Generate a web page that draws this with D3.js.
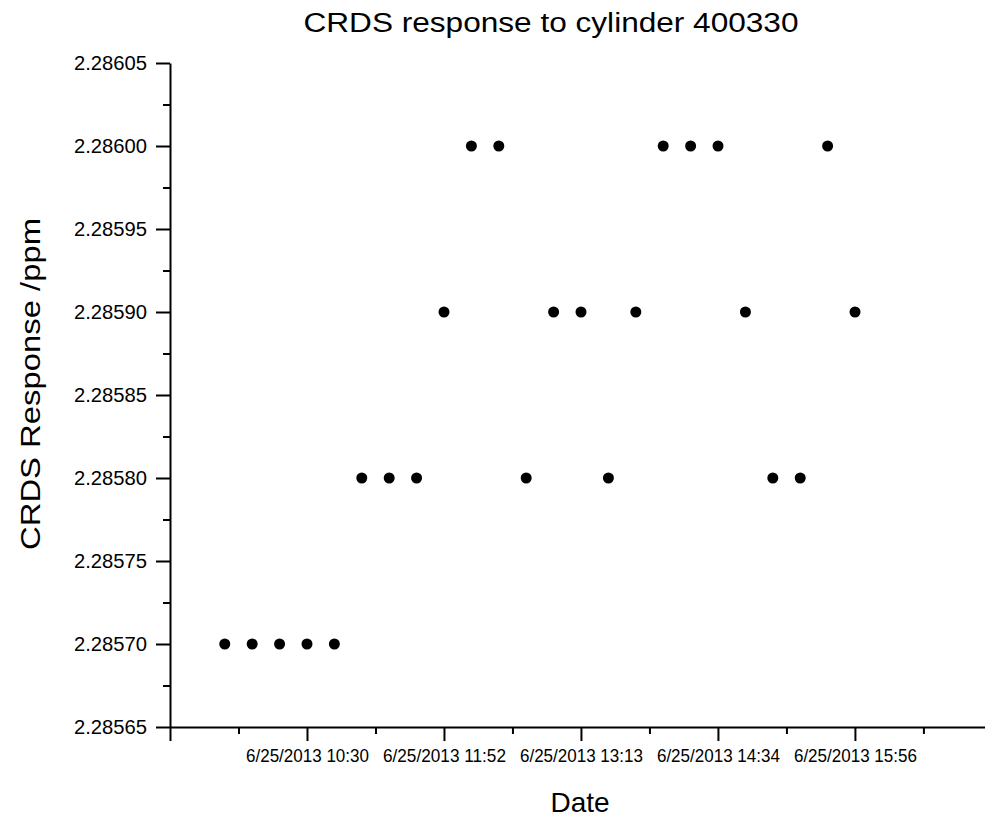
<!DOCTYPE html>
<html>
<head>
<meta charset="utf-8">
<script src="https://cdn.jsdelivr.net/npm/d3@7"></script>
<style>
  body { margin: 0; background: #fff; }
  text { font-family: "Liberation Sans", Arial, sans-serif; fill: #000; }
  .axis path, .axis line { stroke: #000; stroke-width: 2; }
</style>
</head>
<body>
<div id="grafica"></div>
<script>
// datos (6/25/2013)
const horas = ["09:41:09","09:57:26","10:13:43","10:30:00","10:46:17","11:02:34",
  "11:18:51","11:35:08","11:51:25","12:07:42","12:23:59","12:40:16",
  "12:56:33","13:12:50","13:29:07","13:45:24","14:01:41","14:17:58",
  "14:34:15","14:50:32","15:06:49","15:23:06","15:39:23","15:55:40"];
const respuesta = [2.28570, 2.28570, 2.28570, 2.28570, 2.28570, 2.28580,
  2.28580, 2.28580, 2.28590, 2.28600, 2.28600, 2.28580,
  2.28590, 2.28590, 2.28580, 2.28590, 2.28600, 2.28600,
  2.28600, 2.28590, 2.28580, 2.28580, 2.28600, 2.28590];

const ticksX = ["09:08:36","10:30:00","11:51:24","13:12:48","14:34:12","15:55:36"];
const etiquetasX = ["", "6/25/2013 10:30", "6/25/2013 11:52", "6/25/2013 13:13", "6/25/2013 14:34", "6/25/2013 15:56"];
const ticksXmenor = ["09:49:18","11:10:42","12:32:06","13:53:30","15:14:54","16:36:18"];
const dominioX = ["09:08:36", "17:12:54"];

const ticksY = [2.28565, 2.28570, 2.28575, 2.28580, 2.28585, 2.28590, 2.28595, 2.28600, 2.28605];
const ticksYmenor = [2.285675, 2.285725, 2.285775, 2.285825, 2.285875, 2.285925, 2.285975, 2.286025];

const width = 985, height = 820;
const parse = d3.timeParse("%m/%d/%Y %H:%M:%S");
const fecha = h => parse("06/25/2013 " + h);

let svg = d3.select("#grafica").append("svg")
    .attr("width", width)
    .attr("height", height);

const x = d3.scaleTime()
    .domain(dominioX.map(fecha))
    .range([170, 985]);

const y = d3.scaleLinear()
    .domain([2.28565, 2.28605])
    .range([727, 63]);

// eje x
let ejeX = svg.append("g")
    .attr("class", "axis")
    .attr("transform", `translate(0,${y(2.28565)})`)
    .call(d3.axisBottom(x)
        .tickValues(ticksX.map(fecha))
        .tickFormat((d, i) => etiquetasX[i])
        .tickSize(14)
        .tickSizeOuter(0)
        .tickPadding(8));
ejeX.selectAll("text")
    .style("font-size", "19px")
    .filter(function() { return this.textContent != ""; })
    .attr("textLength", 123)
    .attr("lengthAdjust", "spacingAndGlyphs");

svg.append("g")
    .attr("class", "axis")
    .attr("transform", `translate(0,${y(2.28565)})`)
    .call(d3.axisBottom(x)
        .tickValues(ticksXmenor.map(fecha))
        .tickFormat("")
        .tickSize(7)
        .tickSizeOuter(0))
    .select(".domain").remove();

// eje y
let ejeY = svg.append("g")
    .attr("class", "axis")
    .attr("transform", `translate(${x(fecha(dominioX[0]))},0)`)
    .call(d3.axisLeft(y)
        .tickValues(ticksY)
        .tickFormat(d3.format(".5f"))
        .tickSize(14)
        .tickSizeOuter(0)
        .tickPadding(9));
ejeY.selectAll("text")
    .style("font-size", "20.5px")
    .attr("textLength", 73)
    .attr("lengthAdjust", "spacingAndGlyphs");

svg.append("g")
    .attr("class", "axis")
    .attr("transform", `translate(${x(fecha(dominioX[0]))},0)`)
    .call(d3.axisLeft(y)
        .tickValues(ticksYmenor)
        .tickFormat("")
        .tickSize(7)
        .tickSizeOuter(0))
    .select(".domain").remove();

// puntos
svg.selectAll(".punto")
    .data(horas.map((h, i) => ({t: fecha(h), v: respuesta[i]})))
    .join("circle")
    .attr("class", "punto")
    .attr("cx", d => x(d.t))
    .attr("cy", d => y(d.v))
    .attr("r", 5.5)
    .style("fill", "#000");

// titulos
svg.append("text")
    .attr("x", 551)
    .attr("y", 32)
    .attr("text-anchor", "middle")
    .attr("textLength", 495)
    .attr("lengthAdjust", "spacingAndGlyphs")
    .style("font-size", "27px")
    .text("CRDS response to cylinder 400330");

svg.append("text")
    .attr("x", 580)
    .attr("y", 812)
    .attr("text-anchor", "middle")
    .style("font-size", "28px")
    .text("Date");

svg.append("text")
    .attr("transform", "translate(40,384) rotate(-90)")
    .attr("text-anchor", "middle")
    .attr("textLength", 332)
    .attr("lengthAdjust", "spacingAndGlyphs")
    .style("font-size", "28px")
    .text("CRDS Response /ppm");
</script>
</body>
</html>
